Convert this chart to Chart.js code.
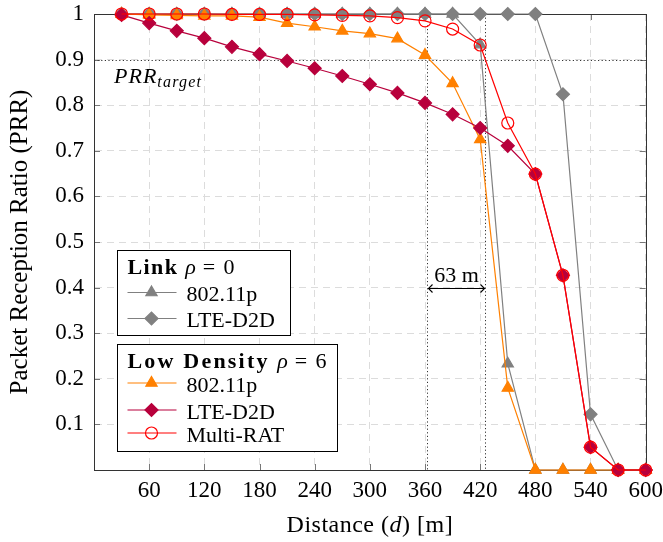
<!DOCTYPE html>
<html>
<head>
<meta charset="utf-8">
<script src="https://cdn.jsdelivr.net/npm/chart.js@4.4.1/dist/chart.umd.min.js"></script>
<style>
  html, body { margin: 0; padding: 0; background: #fff; }
</style>
</head>
<body>
<canvas id="prrChart" width="663" height="542"></canvas>
<script>
// distances in metres
const distances = [30, 60, 90, 120, 150, 180, 210, 240, 270, 300,
                   330, 360, 390, 420, 450, 480, 510, 540, 570, 600];

// Link, rho = 0
const linkWifi = [1, 1, 1, 1, 1, 1, 1, 1, 1, 1,
                  1, 1, 1, 0.933, 0.233, 0, 0, 0, 0, 0];
const linkLte = [1, 1, 1, 1, 1, 1, 1, 1, 1, 1,
                 1, 1, 1, 1, 1, 1, 0.824, 0.122, 0, 0];

// Low density, rho = 6
const lowWifi = [1, 0.998, 0.997, 0.996, 0.996, 0.993, 0.98, 0.972, 0.963, 0.957,
                 0.946, 0.91, 0.848, 0.725, 0.18, 0, 0, 0, 0, 0];
const lowLte = [0.998, 0.98, 0.963, 0.947, 0.928, 0.912, 0.897, 0.881, 0.864, 0.846,
                0.827, 0.805, 0.78, 0.75, 0.711, 0.649, 0.427, 0.05, 0, 0];
const multiRat = [1, 1, 1, 1, 0.999, 0.999, 0.999, 0.998, 0.997, 0.996,
                  0.992, 0.985, 0.967, 0.932, 0.761, 0.649, 0.427, 0.05, 0, 0];

const xTicks = [60, 120, 180, 240, 300, 360, 420, 480, 540, 600];
const yTicks = [0.1, 0.2, 0.3, 0.4, 0.5, 0.6, 0.7, 0.8, 0.9, 1];

// annotation values
const prrTarget = 0.9;
const gapFrom = 361.7;
const gapTo = 424.7;
const gapLabel = '63 m';
const gapArrowAt = 0.4;

const SERIF = '"Liberation Serif", "DejaVu Serif", serif';
const GRAY = '#808080', ORANGE = '#ff8000', CRIMSON = '#b8003c', RED = '#ff0000';

function pts(values) {
    return distances.map((d, i) => ({ x: d, y: values[i] }));
}

function series(label, values, color, style, fill, order) {
    return {
        label: label,
        data: pts(values),
        borderColor: color,
        backgroundColor: fill,
        pointBackgroundColor: fill,
        pointBorderColor: color,
        pointStyle: style,
        pointRadius: style === 'circle' ? 6 : 6.5,
        pointBorderWidth: 1.2,
        borderWidth: 1.2,
        tension: 0,
        clip: false,
        order: order
    };
}

const datasets = [
    series('802.11p', linkWifi, GRAY, 'triangle', GRAY, 5),
    series('LTE-D2D', linkLte, GRAY, 'rectRot', GRAY, 4),
    series('802.11p', lowWifi, ORANGE, 'triangle', ORANGE, 3),
    series('LTE-D2D', lowLte, CRIMSON, 'rectRot', CRIMSON, 2),
    series('Multi-RAT', multiRat, RED, 'circle', 'rgba(0,0,0,0)', 1)
];

// draw a line of text made of pieces with their own font
function drawPieces(ctx, pieces, x, y, align) {
    let total = 0;
    const widthOf = p => {
        ctx.font = p.font;
        ctx.letterSpacing = (p.spacing || 0) + 'px';
        return ctx.measureText(p.text).width;
    };
    pieces.forEach(p => { total += widthOf(p); });
    let cx = align === 'center' ? x - total / 2 : x;
    ctx.textAlign = 'left';
    pieces.forEach(p => {
        const w = widthOf(p);
        ctx.fillText(p.text, cx, y + (p.dy || 0));
        cx += w;
    });
    ctx.letterSpacing = '0px';
}

const extras = {
    id: 'extras',
    beforeDatasetsDraw(chart) {
        const { ctx, chartArea: a, scales: { x, y } } = chart;
        ctx.save();
        // inward ticks
        ctx.strokeStyle = '#777';
        ctx.lineWidth = 1;
        ctx.beginPath();
        xTicks.forEach(v => {
            const px = Math.round(x.getPixelForValue(v)) + 0.5;
            ctx.moveTo(px, a.bottom); ctx.lineTo(px, a.bottom - 6);
            ctx.moveTo(px, a.top); ctx.lineTo(px, a.top + 6);
        });
        yTicks.forEach(v => {
            const py = Math.round(y.getPixelForValue(v)) + 0.5;
            ctx.moveTo(a.left, py); ctx.lineTo(a.left + 6, py);
            ctx.moveTo(a.right, py); ctx.lineTo(a.right - 6, py);
        });
        ctx.stroke();

        // frame
        ctx.strokeStyle = '#333';
        ctx.strokeRect(Math.round(a.left) + 0.5, Math.round(a.top) + 0.5,
                       Math.round(a.width), Math.round(a.height));

        // target line and distance markers
        ctx.strokeStyle = '#333';
        ctx.setLineDash([1.2, 2.4]);
        ctx.beginPath();
        const ty = Math.round(y.getPixelForValue(prrTarget)) + 0.5;
        ctx.moveTo(a.left, ty); ctx.lineTo(a.right, ty);
        const g1 = Math.round(x.getPixelForValue(gapFrom)) + 0.5;
        const g2 = Math.round(x.getPixelForValue(gapTo)) + 0.5;
        ctx.moveTo(g1, y.getPixelForValue(0.975)); ctx.lineTo(g1, a.bottom);
        ctx.moveTo(g2, y.getPixelForValue(1)); ctx.lineTo(g2, a.bottom);
        ctx.stroke();
        ctx.setLineDash([]);

        // double arrow
        const ay = Math.round(y.getPixelForValue(gapArrowAt)) + 0.5;
        ctx.strokeStyle = '#000';
        ctx.lineWidth = 1.1;
        ctx.beginPath();
        ctx.moveTo(g1 + 1, ay); ctx.lineTo(g2 - 1, ay);
        ctx.moveTo(g1 + 5, ay - 4); ctx.lineTo(g1 + 1, ay); ctx.lineTo(g1 + 5, ay + 4);
        ctx.moveTo(g2 - 5, ay - 4); ctx.lineTo(g2 - 1, ay); ctx.lineTo(g2 - 5, ay + 4);
        ctx.stroke();
        ctx.fillStyle = '#000';
        ctx.textBaseline = 'alphabetic';
        ctx.font = '22px ' + SERIF;
        ctx.textAlign = 'center';
        ctx.fillText(gapLabel, (g1 + g2) / 2, ay - 7);

        // PRR target label
        drawPieces(ctx, [
            { text: 'PRR', font: 'italic 22px ' + SERIF, spacing: 1 },
            { text: 'target', font: 'italic 16px ' + SERIF, dy: 4, spacing: 1.2 }
        ], a.left + 20, ty + 22, 'left');
        ctx.restore();
    },
    afterDraw(chart) {
        const { ctx, chartArea: a } = chart;
        ctx.save();
        ctx.fillStyle = '#000';
        ctx.textBaseline = 'alphabetic';
        // x axis title
        drawPieces(ctx, [
            { text: 'Distance (', font: '24px ' + SERIF, spacing: 0.5 },
            { text: 'd', font: 'italic 24px ' + SERIF, spacing: 0.5 },
            { text: ') [m]', font: '24px ' + SERIF, spacing: 0.5 }
        ], (a.left + a.right) / 2, 532, 'center');

        // legends
        const boxes = [
            { x: 117.5, y: 250.5, w: 173, h: 85,
              title: [{ text: 'Link ', font: 'bold 22px ' + SERIF, spacing: 1.4 },
                      { text: 'ρ', font: 'italic 22px ' + SERIF },
                      { text: ' = 0', font: '22px ' + SERIF, spacing: 1.4 }],
              titleY: 273.5, rows: [[0, 301], [1, 327]] },
            { x: 117.5, y: 344.5, w: 220, h: 107,
              title: [{ text: 'Low Density ', font: 'bold 22px ' + SERIF, spacing: 2.2 },
                      { text: 'ρ', font: 'italic 22px ' + SERIF },
                      { text: ' = 6', font: '22px ' + SERIF, spacing: 1.4 }],
              titleY: 367.5, rows: [[2, 391.5], [3, 418.5], [4, 441.5]] }
        ];
        boxes.forEach(b => {
            ctx.fillStyle = '#fff';
            ctx.fillRect(b.x, b.y, b.w, b.h);
            ctx.strokeStyle = '#000';
            ctx.lineWidth = 1;
            ctx.strokeRect(b.x, b.y, b.w, b.h);
            ctx.fillStyle = '#000';
            drawPieces(ctx, b.title, b.x + 10, b.titleY, 'left');
            b.rows.forEach(([i, ty]) => {
                const ds = datasets[i];
                const cy = ty - 8.5;
                ctx.strokeStyle = ds.borderColor;
                ctx.lineWidth = ds.borderWidth;
                ctx.beginPath();
                ctx.moveTo(b.x + 10, cy); ctx.lineTo(b.x + 59, cy);
                ctx.stroke();
                ctx.fillStyle = ds.pointBackgroundColor;
                ctx.strokeStyle = ds.pointBorderColor;
                Chart.helpers.drawPoint(ctx, {
                    pointStyle: ds.pointStyle, rotation: 0,
                    radius: ds.pointRadius, borderWidth: ds.pointBorderWidth
                }, b.x + 34, cy);
                ctx.fillStyle = '#000';
                ctx.font = '22px ' + SERIF;
                ctx.textAlign = 'left';
                ctx.fillText(ds.label, b.x + 69, ty);
            });
        });
        ctx.restore();
    }
};

const ctx = document.getElementById('prrChart').getContext('2d');
const prrChart = new Chart(ctx, {
    type: 'line',
    data: { datasets: datasets },
    options: {
        responsive: false,
        animation: false,
        events: [],
        layout: { padding: { top: 14, right: 17.3, left: 0, bottom: 0 } },
        plugins: { legend: { display: false }, tooltip: { enabled: false } },
        scales: {
            x: {
                type: 'linear',
                min: 0,
                max: 600,
                afterFit: s => { s.height = 72; s.paddingLeft = 0; s.paddingRight = 0; },
                afterBuildTicks: s => { s.ticks = [0].concat(xTicks).map(v => ({ value: v })); },
                ticks: {
                    callback: v => v === 0 ? '' : String(v),
                    font: { family: SERIF, size: 23 },
                    color: '#000',
                    padding: 7,
                    maxRotation: 0,
                    autoSkip: false
                },
                grid: { color: '#dcdcdc', drawTicks: false, lineWidth: 1 },
                border: { color: '#333', dash: [7, 5] }
            },
            y: {
                min: 0,
                max: 1,
                afterFit: s => { s.width = 94; s.paddingTop = 0; s.paddingBottom = 0; },
                afterBuildTicks: s => { s.ticks = [0].concat(yTicks).map(v => ({ value: v })); },
                ticks: {
                    callback: v => v === 0 ? '' : String(Math.round(v * 10) / 10),
                    font: { family: SERIF, size: 23 },
                    color: '#000',
                    padding: 10,
                    autoSkip: false
                },
                grid: { color: '#dcdcdc', drawTicks: false, lineWidth: 1 },
                border: { color: '#333', dash: [7, 5] },
                title: {
                    display: true,
                    text: 'Packet Reception Ratio (PRR)',
                    font: { family: SERIF, size: 25 },
                    color: '#000',
                    padding: { top: 5, bottom: 0 }
                }
            }
        }
    },
    plugins: [extras]
});
</script>
</body>
</html>
